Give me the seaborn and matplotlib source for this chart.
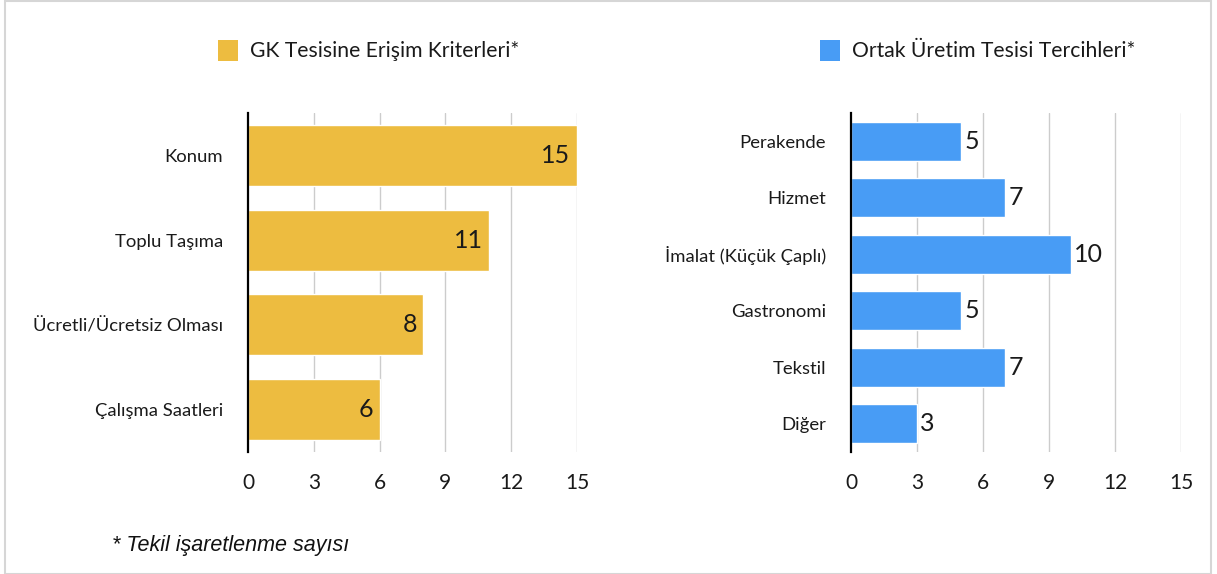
import matplotlib
matplotlib.use("Agg")
import matplotlib.pyplot as plt
import seaborn as sns
import pandas as pd
from matplotlib.patches import Rectangle

sns.set_style("white")
plt.rcParams['font.family'] = ['Lato', 'DejaVu Sans']

left_title = "GK Tesisine Erişim Kriterleri*"
left_cats = ["Konum", "Toplu Taşıma", "Ücretli/Ücretsiz Olması", "Çalışma Saatleri"]
left_vals = [15, 11, 8, 6]

right_title = "Ortak Üretim Tesisi Tercihleri*"
right_cats = ["Perakende", "Hizmet", "İmalat (Küçük Çaplı)", "Gastronomi", "Tekstil", "Diğer"]
right_vals = [5, 7, 10, 5, 7, 3]

x_ticks = [0, 3, 6, 9, 12, 15]
footnote = "* Tekil işaretlenme sayısı"

yellow = "#EDBC40"
blue = "#489CF5"
grid_c = "#CCCCCC"
text_c = "#1A1A1A"

W, H = 1217, 574
fig = plt.figure(figsize=(W / 100, H / 100), dpi=100)
fig.patch.set_facecolor("white")
fig.add_artist(Rectangle((5 / W, 0), (1211 - 5) / W, 1 - 1 / H, transform=fig.transFigure,
                         fill=False, edgecolor="#D6D6D6", linewidth=1.5))

axL = fig.add_axes([248 / W, 1 - 452 / H, 329 / W, 339 / H])
axR = fig.add_axes([851 / W, 1 - 452 / H, 330 / W, 339 / H])

dfL = pd.DataFrame({"cat": left_cats, "val": left_vals})
dfR = pd.DataFrame({"cat": right_cats, "val": right_vals})

sns.barplot(data=dfL, y="cat", x="val", orient="h", color=yellow, width=0.72,
            saturation=1, ax=axL, zorder=2)
sns.barplot(data=dfR, y="cat", x="val", orient="h", color=blue, width=0.69,
            saturation=1, ax=axR, zorder=2)

for ax, n in [(axL, len(left_cats)), (axR, len(right_cats))]:
    ax.set_xlim(0, 15)
    ax.set_ylim(n - 0.5, -0.5)
    ax.set_xticks(x_ticks)
    ax.set_xticklabels([str(t) for t in x_ticks])
    ax.set_xlabel("")
    ax.set_ylabel("")
    for t in x_ticks[1:]:
        ax.axvline(t, color=grid_c, linewidth=1, zorder=1)
    for s in ["top", "right", "bottom"]:
        ax.spines[s].set_visible(False)
    ax.spines["left"].set_color("black")
    ax.spines["left"].set_linewidth(1.6)
    ax.spines["left"].set_zorder(3)
    ax.tick_params(axis="x", length=0, pad=15, labelsize=15, labelcolor=text_c)
    ax.tick_params(axis="y", length=0, pad=18, labelsize=13.3, labelcolor=text_c)
    ax.set_facecolor("none")

# value labels
for cont in axL.containers:
    for bar, v in zip(cont, left_vals):
        axL.text(bar.get_width() - 0.3, bar.get_y() + bar.get_height() / 2, str(v),
                 ha="right", va="center", fontsize=18, color=text_c, zorder=4)
for cont in axR.containers:
    for bar, v in zip(cont, right_vals):
        axR.text(bar.get_width() + 0.15, bar.get_y() + bar.get_height() / 2, str(v),
                 ha="left", va="center", fontsize=18, color=text_c, zorder=4)

# legends
fig.add_artist(Rectangle((218 / W, 1 - 61 / H), 20 / W, 21 / H, transform=fig.transFigure,
                         facecolor=yellow, edgecolor="none"))
fig.text(250 / W, 1 - 51 / H, left_title, ha="left", va="center", fontsize=15.2, color=text_c)
fig.add_artist(Rectangle((820 / W, 1 - 61 / H), 20 / W, 21 / H, transform=fig.transFigure,
                         facecolor=blue, edgecolor="none"))
fig.text(852 / W, 1 - 51 / H, right_title, ha="left", va="center", fontsize=15.2, color=text_c)

fig.text(112 / W, 1 - 545 / H, footnote, ha="left", va="center", fontsize=15.5,
         style="italic", color="#111111", family=["Liberation Sans", "DejaVu Sans"])

fig.savefig("out.png", dpi=100, facecolor="white")
